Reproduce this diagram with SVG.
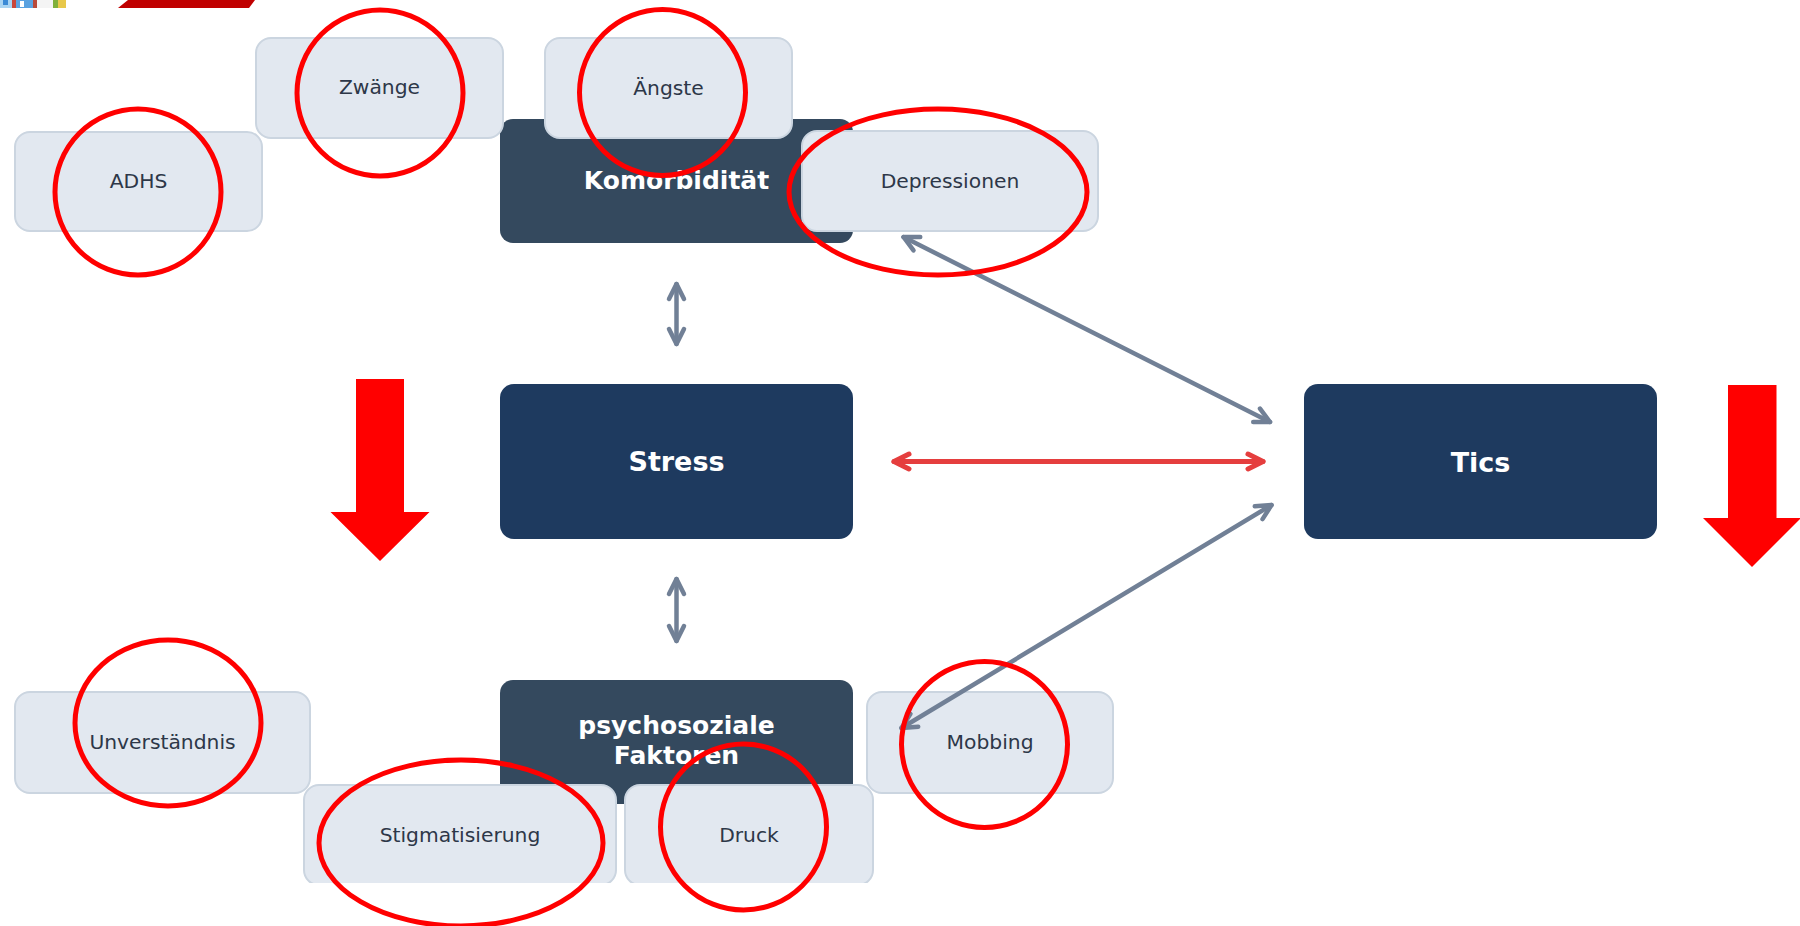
<svg xmlns="http://www.w3.org/2000/svg" width="1800" height="926" viewBox="0 0 1800 926">
  <style>
    .sub rect { fill: #e2e8f0; stroke: #cbd5e0; stroke-width: 2; }
    .sub text { font-family: "DejaVu Sans", "Noto Sans", sans-serif; font-size: 20.3px; fill: #2d3748; text-anchor: middle; }
    .grp rect { fill: #34495e; }
    .core rect { fill: #1e3a5f; }
    .grp text, .core text { font-family: "DejaVu Sans", "Noto Sans", sans-serif; font-weight: bold; fill: #ffffff; text-anchor: middle; }
    .grp text { font-size: 25px; }
    .core text { font-size: 27px; }
    .link { fill: none; stroke: #718096; stroke-width: 4.5; stroke-linecap: round; }
    .link.hot { stroke: #e53e3e; stroke-width: 5; }
    .ring { fill: none; stroke: #ff0000; stroke-width: 5; }
    .bigarrow { fill: #ff0000; }
  </style>
  <defs>
    <marker id="headGray" markerUnits="userSpaceOnUse" viewBox="-20 -12 24 24" refX="0" refY="0" markerWidth="24" markerHeight="24" orient="auto-start-reverse">
      <path d="M -15 -7.5 L 0 0 L -15 7.5" fill="none" stroke="#718096" stroke-width="4.5" stroke-linecap="round" stroke-linejoin="round"/>
    </marker>
    <marker id="headRed" markerUnits="userSpaceOnUse" viewBox="-20 -12 24 24" refX="0" refY="0" markerWidth="24" markerHeight="24" orient="auto-start-reverse">
      <path d="M -15 -7.5 L 0 0 L -15 7.5" fill="none" stroke="#e53e3e" stroke-width="5" stroke-linecap="round" stroke-linejoin="round"/>
    </marker>
    <clipPath id="frame">
      <rect x="0" y="0" width="1800" height="883"/>
    </clipPath>
  </defs>

  <rect x="0" y="0" width="1800" height="926" fill="#ffffff"/>

  <!-- header strip -->
  <g id="header">
    <g id="logo">
      <rect x="0" y="0" width="12" height="8" fill="#a9d4f2"/>
      <rect x="3" y="0" width="5" height="5" fill="#3a8ad6"/>
      <rect x="12" y="0" width="4" height="8" fill="#c8463a"/>
      <rect x="16" y="0" width="17" height="8" fill="#5aa2e0"/>
      <rect x="20" y="1" width="4" height="6" fill="#ffffff"/>
      <rect x="33" y="0" width="4" height="8" fill="#b84a3a"/>
      <rect x="37" y="0" width="16" height="8" fill="#f4f4f4"/>
      <rect x="53" y="0" width="5" height="8" fill="#7fb03a"/>
      <rect x="58" y="0" width="8" height="8" fill="#e8c84a"/>
    </g>
    <polygon id="banner" points="118,8 128,0 255,0 249,8" fill="#c00000"/>
  </g>

  <!-- group nodes (dark) -->
  <g id="komorbiditaet" class="grp">
    <rect x="500" y="119" width="353" height="124" rx="13"/>
    <text x="676.5" y="189">Komorbidität</text>
  </g>
  <g id="psychosozial" class="grp">
    <rect x="500" y="680" width="353" height="124" rx="13"/>
    <text x="676.5" y="734">psychosoziale</text>
    <text x="676.5" y="764">Faktoren</text>
  </g>

  <!-- core nodes -->
  <g id="stress" class="core">
    <rect x="500" y="384" width="353" height="155" rx="14"/>
    <text x="676.5" y="471">Stress</text>
  </g>
  <g id="tics" class="core">
    <rect x="1304" y="384" width="353" height="155" rx="14"/>
    <text x="1480.5" y="472">Tics</text>
  </g>

  <!-- comorbidities -->
  <g id="adhs" class="sub">
    <rect x="15" y="132" width="247" height="99" rx="15"/>
    <text x="138.5" y="188">ADHS</text>
  </g>
  <g id="zwaenge" class="sub">
    <rect x="256" y="38" width="247" height="100" rx="15"/>
    <text x="379.5" y="94">Zwänge</text>
  </g>
  <g id="aengste" class="sub">
    <rect x="545" y="38" width="247" height="100" rx="15"/>
    <text x="668.5" y="95">Ängste</text>
  </g>
  <g id="depressionen" class="sub">
    <rect x="802" y="131" width="296" height="100" rx="15"/>
    <text x="950" y="188">Depressionen</text>
  </g>

  <!-- psychosocial factors -->
  <g id="unverstaendnis" class="sub">
    <rect x="15" y="692" width="295" height="101" rx="15"/>
    <text x="162.5" y="749">Unverständnis</text>
  </g>
  <g id="mobbing" class="sub">
    <rect x="867" y="692" width="246" height="101" rx="15"/>
    <text x="990" y="749">Mobbing</text>
  </g>
  <g id="stigmatisierung" class="sub" clip-path="url(#frame)">
    <rect x="304" y="785" width="312" height="100" rx="15"/>
    <text x="460" y="842">Stigmatisierung</text>
  </g>
  <g id="druck" class="sub" clip-path="url(#frame)">
    <rect x="625" y="785" width="248" height="100" rx="15"/>
    <text x="749" y="842">Druck</text>
  </g>

  <!-- connectors -->
  <g id="connectors">
    <line class="link" x1="676.5" y1="284" x2="676.5" y2="344" marker-start="url(#headGray)" marker-end="url(#headGray)"/>
    <line class="link" x1="676.5" y1="579" x2="676.5" y2="641" marker-start="url(#headGray)" marker-end="url(#headGray)"/>
    <line class="link hot" x1="894" y1="461.5" x2="1263" y2="461.5" marker-start="url(#headRed)" marker-end="url(#headRed)"/>
    <line class="link" x1="903.5" y1="237" x2="1270" y2="422" marker-start="url(#headGray)" marker-end="url(#headGray)"/>
    <line class="link" x1="901.5" y1="728" x2="1271.5" y2="505" marker-start="url(#headGray)" marker-end="url(#headGray)"/>
  </g>

  <!-- downward block arrows -->
  <polygon id="arrowLeft" class="bigarrow" points="356,379 404,379 404,512 429.5,512 380,561 330.5,512 356,512"/>
  <polygon id="arrowRight" class="bigarrow" points="1728,385 1776.5,385 1776.5,518 1801,518 1752,567 1703,518 1728,518"/>

  <!-- highlight rings -->
  <g id="rings">
    <ellipse class="ring" cx="138" cy="192" rx="83" ry="83"/>
    <ellipse class="ring" cx="380" cy="93" rx="83" ry="83"/>
    <ellipse class="ring" cx="662.5" cy="92.5" rx="83" ry="83"/>
    <ellipse class="ring" cx="938" cy="192" rx="149" ry="83"/>
    <ellipse class="ring" cx="168" cy="723" rx="93" ry="83"/>
    <ellipse class="ring" cx="461" cy="843" rx="142" ry="83"/>
    <ellipse class="ring" cx="743.5" cy="827" rx="83" ry="83"/>
    <ellipse class="ring" cx="984.5" cy="744.5" rx="83" ry="83"/>
  </g>
</svg>
